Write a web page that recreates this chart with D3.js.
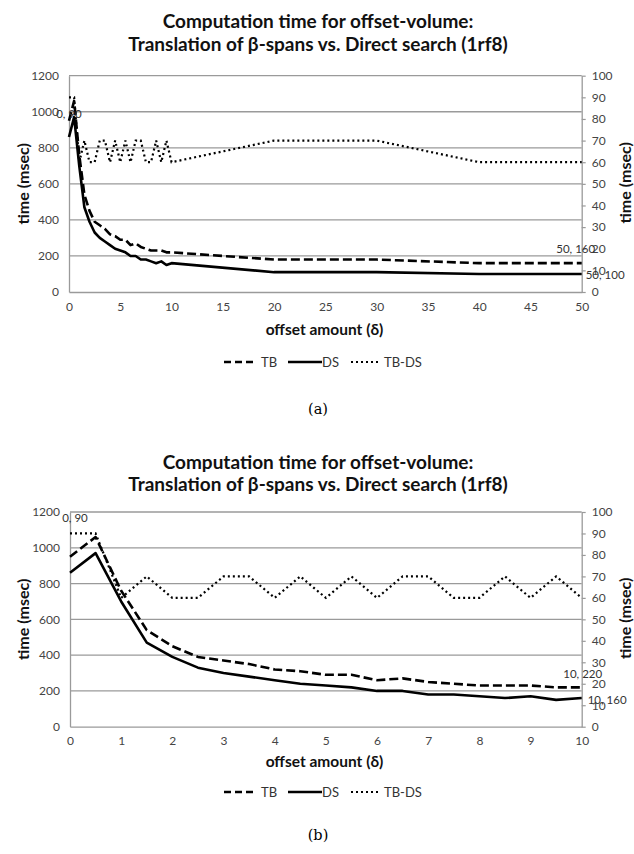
<!DOCTYPE html>
<html><head><meta charset="utf-8">
<script src="https://cdn.jsdelivr.net/npm/d3@7"></script>
<style>body{margin:0;background:#fff}</style>
</head><body>
<svg id="c" width="634" height="854" xmlns="http://www.w3.org/2000/svg"></svg>
<script>
// ---------------- DATA ----------------
const titleLines = ["Computation time for offset-volume:", "Translation of β-spans vs. Direct search (1rf8)"];
const yLeftLabel = "time (msec)";
const yRightLabel = "time (msec)";
const xLabel = "offset amount (δ)";
const seriesNames = ["TB", "DS", "TB-DS"];
const leftTicks = [0, 200, 400, 600, 800, 1000, 1200];
const rightTicks = [0, 10, 20, 30, 40, 50, 60, 70, 80, 90, 100];
const xTicksA = [0, 5, 10, 15, 20, 25, 30, 35, 40, 45, 50];
const xTicksB = [0, 1, 2, 3, 4, 5, 6, 7, 8, 9, 10];

// offsets 0..10 (step 0.5)
const offsetFine = [0, 0.5, 1, 1.5, 2, 2.5, 3, 3.5, 4, 4.5, 5, 5.5, 6, 6.5, 7, 7.5, 8, 8.5, 9, 9.5, 10];
const tbFine   = [950, 1060, 760, 540, 450, 390, 370, 350, 320, 310, 290, 290, 260, 270, 250, 240, 230, 230, 230, 220, 220];
const dsFine   = [860, 970, 700, 470, 390, 330, 300, 280, 260, 240, 230, 220, 200, 200, 180, 180, 170, 160, 170, 150, 160];
const tbdsFine = [90, 90, 60, 70, 60, 60, 70, 70, 60, 70, 60, 70, 60, 70, 70, 60, 60, 70, 60, 70, 60];
// additional offsets in chart (a)
const offsetCoarse = [20, 30, 40, 50];
const tbCoarse   = [180, 180, 160, 160];
const dsCoarse   = [110, 110, 100, 100];
const tbdsCoarse = [70, 70, 60, 60];

// ---------------- DRAW ----------------
const svg = d3.select("#c");
const FONT = "Lato, 'Open Sans', sans-serif";

function zip(xs, ys) { return xs.map((x, i) => ({x, y: ys[i]})); }

function drawChart(cfg) {
  const g = svg.append("g");
  const x = d3.scaleLinear().domain(cfg.xDomain).range([cfg.x0, cfg.x1]);
  const yL = d3.scaleLinear().domain([0, 1200]).range([cfg.y0, cfg.y1]);
  const yR = d3.scaleLinear().domain([0, 100]).range([cfg.y0, cfg.y1]);

  // title
  titleLines.forEach((t, i) => {
    g.append("text").attr("x", 318).attr("y", cfg.titleY[i])
      .attr("text-anchor", "middle").attr("font-family", FONT)
      .attr("font-weight", "bold").attr("font-size", 19).attr("fill", "#111").text(t);
  });

  // gridlines
  g.append("g").selectAll("line").data(leftTicks.filter(d => d > 0)).join("line")
    .attr("x1", cfg.x0).attr("x2", cfg.x1)
    .attr("y1", d => yL(d)).attr("y2", d => yL(d))
    .attr("stroke", "#9a9a9a").attr("stroke-width", 1.3);

  // left axis
  const axL = g.append("g").attr("transform", `translate(${cfg.x0},0)`)
    .call(d3.axisLeft(yL).tickValues(leftTicks).tickSize(0).tickPadding(10).tickFormat(d3.format("d")));
  axL.select(".domain").attr("stroke", "#9a9a9a").attr("stroke-width", 1.3);
  axL.selectAll("text").attr("font-family", FONT).attr("font-size", 12).attr("fill", "#444");

  // right axis
  const axR = g.append("g").attr("transform", `translate(${cfg.x1},0)`)
    .call(d3.axisRight(yR).tickValues(rightTicks).tickSizeInner(4).tickSizeOuter(0).tickPadding(6).tickFormat(d3.format("d")));
  axR.select(".domain").attr("stroke", "#9a9a9a").attr("stroke-width", 1.3);
  axR.selectAll(".tick line").attr("stroke", "#9a9a9a").attr("stroke-width", 1.2);
  axR.selectAll("text").attr("font-family", FONT).attr("font-size", 12).attr("fill", "#444");

  // bottom axis
  const axB = g.append("g").attr("transform", `translate(0,${cfg.y0})`)
    .call(d3.axisBottom(x).tickValues(cfg.xTicks).tickSize(0).tickPadding(10).tickFormat(d3.format("d")));
  axB.select(".domain").attr("stroke", "#9a9a9a").attr("stroke-width", 1.3);
  axB.selectAll("text").attr("font-family", FONT).attr("font-size", 12).attr("fill", "#444");

  // axis titles
  g.append("text").attr("transform", `translate(22,${(cfg.y0 + cfg.y1) / 2}) rotate(-90)`)
    .attr("text-anchor", "middle").attr("dominant-baseline", "central")
    .attr("font-family", FONT).attr("font-weight", "bold").attr("font-size", 16).attr("fill", "#111").text(yLeftLabel);
  g.append("text").attr("transform", `translate(624,${(cfg.y0 + cfg.y1) / 2 - 1}) rotate(-90)`)
    .attr("text-anchor", "middle").attr("dominant-baseline", "central")
    .attr("font-family", FONT).attr("font-weight", "bold").attr("font-size", 16).attr("fill", "#111").text(yRightLabel);
  g.append("text").attr("x", 324.5).attr("y", cfg.xLabelY)
    .attr("text-anchor", "middle").attr("font-family", FONT).attr("font-weight", "bold")
    .attr("font-size", 15.5).attr("fill", "#111").text(xLabel);

  // series
  const lineL = d3.line().x(d => x(d.x)).y(d => yL(d.y));
  const lineR = d3.line().x(d => x(d.x)).y(d => yR(d.y));
  const gs = g.append("g");
  gs.append("path").datum(cfg.tb).attr("d", lineL).attr("fill", "none").attr("stroke", "#000")
    .attr("stroke-width", 2.6).attr("stroke-dasharray", "9,4").attr("stroke-linejoin", "round");
  gs.append("path").datum(cfg.ds).attr("d", lineL).attr("fill", "none").attr("stroke", "#000")
    .attr("stroke-width", 2.6).attr("stroke-linejoin", "round");
  gs.append("path").datum(cfg.tbds).attr("d", lineR).attr("fill", "none").attr("stroke", "#000")
    .attr("stroke-width", 2.2).attr("stroke-dasharray", "2,3");

  // data labels
  const lab = (p, scale, dx, dy, anchor) => {
    g.append("text").attr("x", x(p.x) + dx).attr("y", scale(p.y) + dy)
      .attr("text-anchor", anchor).attr("dominant-baseline", "central")
      .attr("font-family", FONT).attr("font-size", 11.5).attr("fill", "#333")
      .text(`${p.x}, ${p.y}`);
  };
  const first = cfg.tbds[0], lastTB = cfg.tb[cfg.tb.length - 1], lastDS = cfg.ds[cfg.ds.length - 1];
  lab(first, yR, cfg.lab0[0], cfg.lab0[1], "middle");
  lab(lastTB, yL, cfg.labTB[0], cfg.labTB[1], "middle");
  lab(lastDS, yL, cfg.labDS[0], cfg.labDS[1], "start");

  // legend
  const ly = cfg.legendY;
  const leg = g.append("g");
  leg.append("line").attr("x1", 224).attr("x2", 257).attr("y1", ly).attr("y2", ly)
    .attr("stroke", "#000").attr("stroke-width", 2.6).attr("stroke-dasharray", "7,4");
  leg.append("text").attr("x", 261).attr("y", ly).attr("dominant-baseline", "central")
    .attr("font-family", FONT).attr("font-size", 13).attr("fill", "#333").text(seriesNames[0]);
  leg.append("line").attr("x1", 288).attr("x2", 322).attr("y1", ly).attr("y2", ly)
    .attr("stroke", "#000").attr("stroke-width", 2.6);
  leg.append("text").attr("x", 322).attr("y", ly).attr("dominant-baseline", "central")
    .attr("font-family", FONT).attr("font-size", 13).attr("fill", "#333").text(seriesNames[1]);
  leg.append("line").attr("x1", 351).attr("x2", 381).attr("y1", ly).attr("y2", ly)
    .attr("stroke", "#000").attr("stroke-width", 2.2).attr("stroke-dasharray", "2,3");
  leg.append("text").attr("x", 384).attr("y", ly).attr("dominant-baseline", "central")
    .attr("font-family", FONT).attr("font-size", 13).attr("fill", "#333").text(seriesNames[2]);

  // caption
  g.append("text").attr("x", 318).attr("y", cfg.capY).attr("text-anchor", "middle")
    .attr("font-family", "'DejaVu Serif', 'Liberation Serif', serif").attr("font-size", 14.5)
    .attr("fill", "#000").text(cfg.caption);
}

drawChart({
  xDomain: [0, 50], xTicks: xTicksA,
  x0: 69, x1: 581.7, y0: 292, y1: 75.7,
  titleY: [28, 51], xLabelY: 335, legendY: 362, capY: 414, caption: "(a)",
  tb: zip(offsetFine.concat(offsetCoarse), tbFine.concat(tbCoarse)),
  ds: zip(offsetFine.concat(offsetCoarse), dsFine.concat(dsCoarse)),
  tbds: zip(offsetFine.concat(offsetCoarse), tbdsFine.concat(tbdsCoarse)),
  lab0: [0, 16], labTB: [-6, -15], labDS: [4, 1]
});

drawChart({
  xDomain: [0, 10], xTicks: xTicksB,
  x0: 70, x1: 581.7, y0: 726.7, y1: 512,
  titleY: [469, 491], xLabelY: 767, legendY: 792, capY: 840, caption: "(b)",
  tb: zip(offsetFine, tbFine),
  ds: zip(offsetFine, dsFine),
  tbds: zip(offsetFine, tbdsFine),
  lab0: [5, -16], labTB: [1, -14], labDS: [6, 1]
});
</script>
</body></html>
